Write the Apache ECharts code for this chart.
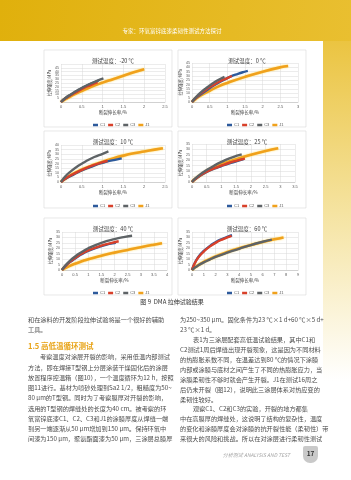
<!DOCTYPE html>
<html>
<head>
<meta charset="utf-8">
<script src="https://cdn.jsdelivr.net/npm/echarts@6/dist/echarts.min.js"></script>
<style>
  html, body { margin: 0; padding: 0; background: #fff; }
  #chart { width: 351px; height: 480px; }
</style>
</head>
<body>
<div id="chart"></div>
<script>
// series names and panel titles
const seriesNames = ['C1', 'C2', 'C3', 'J1'];
const panelTitles = ['测试温度：-20 ℃', '测试温度：0 ℃', '测试温度：10 ℃', '测试温度：25 ℃', '测试温度：40 ℃', '测试温度：60 ℃'];

// axis ranges (tick labels)
const xMax = [2.5, 3, 2.5, 3.5, 4, 9];
const xStep = [0.5, 0.5, 0.5, 0.5, 0.5, 1];
const yMax = [50, 45, 40, 35, 35, 35];
const yStep = [5, 5, 5, 5, 5, 5];

// -20 ℃
const c1_m20 = [[0,0],[0.1,4.8],[0.25,10],[0.4,15],[0.55,19.5],[0.7,23.5],[0.9,28]];
const c2_m20 = [[0,0],[0.1,4.5],[0.25,9.5],[0.4,14],[0.55,18.5],[0.7,22],[0.88,26]];
const c3_m20 = [[0,0],[0.1,5],[0.25,10.5],[0.4,15.5],[0.55,20],[0.7,24],[0.85,27.5],[1.02,31]];
const j1_m20 = [[0,0],[0.1,3.5],[0.25,8],[0.4,12],[0.6,17],[0.8,21.5],[1,25.5],[1.25,30],[1.5,34.5],[1.75,39],[2,43]];
// 0 ℃
const c1_0 = [[0,0],[0.1,4.3],[0.3,10.5],[0.5,16],[0.7,21],[0.9,25.5],[1.1,29.5],[1.3,32.5],[1.45,34.5],[1.58,36]];
const c2_0 = [[0,0],[0.1,4.5],[0.25,10],[0.4,14.5],[0.6,19.5],[0.8,24],[1,27.5],[1.13,30]];
const c3_0 = [[0,0],[0.1,5],[0.25,11],[0.4,16],[0.55,20.5],[0.7,24.5],[0.92,29]];
const j1_0 = [[0,0],[0.1,3.3],[0.25,7.5],[0.5,13],[0.75,18],[1,22],[1.5,29],[2,35],[2.5,40],[2.72,41.5]];
// 10 ℃
const c1_10 = [[0,0],[0.1,3.3],[0.3,8],[0.5,12.5],[0.7,16],[0.9,19.5],[1.1,22],[1.3,24],[1.46,25.5]];
const c2_10 = [[0,0],[0.1,3.5],[0.25,7.5],[0.4,11],[0.6,15],[0.8,18.5],[1,21.5],[1.12,23]];
const c3_10 = [[0,0],[0.1,6],[0.25,12],[0.4,17],[0.6,22.5],[0.8,27],[1,30.5],[1.14,33]];
const j1_10 = [[0,0],[0.1,3.5],[0.25,8],[0.5,13.5],[0.75,18],[1,22],[1.25,25.5],[1.5,28.5],[1.75,31],[2,33],[2.25,35],[2.45,36.5]];
// 25 ℃
const c1_25 = [[0,0],[0.1,2.4],[0.3,6.2],[0.5,9.2],[0.75,12.2],[1,14.7],[1.25,17],[1.5,19],[1.75,21]];
const c2_25 = [[0,0],[0.1,2.5],[0.3,6.5],[0.5,9.5],[0.75,12.5],[1,15],[1.25,17.5],[1.5,19.5],[1.8,21.5]];
const c3_25 = [[0,0],[0.1,3],[0.3,7.5],[0.5,11],[0.75,15],[1,18.5],[1.25,21.5],[1.5,24],[1.69,25.5]];
const j1_25 = [[0,0],[0.1,2.5],[0.3,6.5],[0.5,10],[0.75,13.5],[1,16.5],[1.5,21],[2,25],[2.5,28.5],[2.93,31]];
// 40 ℃
const c1_40 = [[0,0],[0.1,2.9],[0.3,7.2],[0.5,10.6],[0.75,14.5],[1,17.5],[1.5,22],[1.8,24],[2.05,25]];
const c2_40 = [[0,0],[0.1,3],[0.3,7.5],[0.5,11],[0.75,15],[1,18],[1.5,22.5],[1.9,25],[2.16,26.5]];
const c3_40 = [[0,0],[0.1,3.5],[0.3,8.5],[0.5,12.5],[0.75,16.5],[1,20],[1.5,25],[2,28.5],[2.4,30.5],[2.67,31.5]];
const j1_40 = [[0,0],[0.1,1.5],[0.3,3.8],[0.5,5.8],[0.75,8],[1,10],[1.5,13.2],[2,16],[2.5,18.5],[3,21],[3.5,23.3],[3.81,24.6]];
// 60 ℃
const c1_60 = [[0,0],[0.1,3.1],[0.3,7.8],[0.6,13],[1,17.5],[1.5,22],[2,25.5],[2.5,28.3],[3,30.5],[3.4,32]];
const c2_60 = [[0,0],[0.1,3],[0.3,7.5],[0.6,12.5],[1,17],[1.5,21.5],[2,25],[2.5,27.8],[3,30],[3.36,31.5]];
const c3_60 = [[0,0],[0.2,1.8],[0.5,4],[1,7],[1.5,9.5],[2,12],[3,16],[4,19.5],[5,23],[6,26],[6.78,28]];
const j1_60 = [[0,0],[0.2,2],[0.5,4.2],[1,7.5],[1.5,10],[2,12.5],[3,16.5],[4,20],[5,23],[6,25.8],[7,28.3],[7.77,30]];

const panelData = [
  [c1_m20, c2_m20, c3_m20, j1_m20],
  [c1_0, c2_0, c3_0, j1_0],
  [c1_10, c2_10, c3_10, j1_10],
  [c1_25, c2_25, c3_25, j1_25],
  [c1_40, c2_40, c3_40, j1_40],
  [c1_60, c2_60, c3_60, j1_60]
];

// page text
const headerText = '专家：环氧富锌底漆柔韧性测试方法探讨';
const captionText = '图 9  DMA 拉伸试验结果';
const sectionHeading = '1.5 高低温循环测试';
const leftTopLines = ['和在涂料的开发阶段拉伸试验将是一个很好的辅助', '工具。'];
const leftLines = [
  '考察温度对涂层开裂的影响，采用低温内部测试',
  '方法，即在焊接T型钢上分层涂装干燥固化后的涂层',
  '放置程序控温箱（图10），一个温度循环为12 h，按照',
  '图11进行。基材为喷砂处理到Sa2 1/2，粗糙度为50~',
  '80 μm的T型钢。同时为了考察膜厚对开裂的影响，',
  '选用的T型钢的焊缝处的长度为40 cm。被考察的环',
  '氧富锌底漆C1、C2、C3和J1的涂膜厚度从焊缝一端',
  '到另一端逐渐从50 μm增加到150 μm。保持环氧中',
  '间漆为150 μm，聚氨酯面漆为50 μm，三涂层总膜厚'
];
const rightLines = [
  '为250~350 μm。固化条件为23 ℃×1 d+60 ℃×5 d+',
  '23 ℃×1 d。',
  '表1为三涂层配套高低温试验结果，其中C1和',
  'C2测试1周后焊缝出现开裂现象，这是因为不同材料',
  '的热膨胀系数不同，在温差达到80 ℃的情况下涂膜',
  '内部或涂膜与底材之间产生了不同的热膨胀应力，当',
  '涂膜柔韧性不够时就会产生开裂。J1在测试16周之',
  '后仍未开裂（图12），说明此三涂层体系对热应变的',
  '柔韧性较好。',
  '观察C1、C2和C3的实验，开裂的地方都集',
  '中在高膜厚的焊缝处，这说明了结构的复杂性，温度',
  '的变化和涂膜厚度会对涂膜的抗开裂性能（柔韧性）带',
  '来很大的风险和挑战。所以在对涂层进行柔韧性测试'
];
const rightIndent = [2, 9];
const footerText = '分析测试 ANALYSIS AND TEST';
const pageNo = '17';

// layout
const colors = ['#2d5a9c', '#d8402a', '#5e6366', '#f0a11c'];
const boxes = [[44,50,128,77],[178,50,128,77],[44,131,128,77],[178,131,128,77],[44,218,128,77],[178,218,128,77]];
const grids = [[61,64,104,38],[192,63,106,39],[61,145,104,37],[192,144,103,38],[62,232,105,38],[192,232,106,38]];
const titleTop = [53, 53, 134, 134, 221, 221];
const legendTop = [118, 118, 199, 199, 286, 286];
const cjk = '"Noto Sans CJK SC", "Noto Sans", sans-serif';
const bodyColor = '#4d4d4d';

const chart = echarts.init(document.getElementById('chart'));

const graphics = [
  { type: 'rect', z: -20, shape: { x: 0, y: 0, width: 351, height: 480 }, style: { fill: '#fff' } },
  { type: 'rect', z: -19, shape: { x: 0, y: 0, width: 351, height: 41 },
    style: { fill: new echarts.graphic.LinearGradient(0, 0, 1, 1, [{ offset: 0, color: '#e0b00c' }, { offset: 1, color: '#e9bf30' }]) } },
  { type: 'rect', z: -19, shape: { x: 323, y: 41, width: 28, height: 340 },
    style: { fill: new echarts.graphic.LinearGradient(0, 0, 0, 1, [{ offset: 0, color: '#ebc441' }, { offset: 0.5, color: '#f5e3a0' }, { offset: 1, color: '#ffffff' }]) } },
  { type: 'text', x: 172, y: 31, z: 10, style: { text: headerText, font: '5.5px ' + cjk, fill: '#fff', align: 'center', verticalAlign: 'middle' } },
  { type: 'text', x: 172, y: 302, z: 10, style: { text: captionText, font: '6px ' + cjk, fill: '#333', align: 'center', verticalAlign: 'middle' } },
  { type: 'text', x: 28, y: 346, z: 10, style: { text: sectionHeading, font: 'bold 7.5px ' + cjk, fill: '#e8a316', verticalAlign: 'middle' } },
  { type: 'text', x: 290, y: 455, z: 10, style: { text: footerText, font: 'italic 5px ' + cjk, fill: '#a6a6a6', align: 'right', verticalAlign: 'middle' } },
  { type: 'rect', z: 5, shape: { x: 303, y: 446, width: 15, height: 17, r: [2, 2, 7, 7] }, style: { fill: '#c9c9c9' } },
  { type: 'text', x: 310.5, y: 454, z: 10, style: { text: pageNo, font: 'bold 6.5px ' + cjk, fill: '#333', align: 'center', verticalAlign: 'middle' } }
];

boxes.forEach(function (b) {
  graphics.push({ type: 'rect', z: -5, shape: { x: b[0], y: b[1], width: b[2], height: b[3] }, style: { fill: '#fff', stroke: '#d9d9d9', lineWidth: 0.6 } });
});

leftTopLines.forEach(function (t, i) {
  graphics.push({ type: 'text', x: 28, y: 320 + i * 10, z: 10, style: { text: t, font: '6.2px ' + cjk, fill: bodyColor, verticalAlign: 'middle' } });
});
leftLines.forEach(function (t, i) {
  graphics.push({ type: 'text', x: i === 0 ? 40 : 28, y: 357 + i * 10.25, z: 10, style: { text: t, font: '6.2px ' + cjk, fill: bodyColor, verticalAlign: 'middle' } });
});
rightLines.forEach(function (t, i) {
  graphics.push({ type: 'text', x: rightIndent.indexOf(i) >= 0 ? 193 : 180, y: 320 + i * 9.9, z: 10, style: { text: t, font: '6.2px ' + cjk, fill: bodyColor, verticalAlign: 'middle' } });
});

const option = {
  animation: false,
  title: [], grid: [], xAxis: [], yAxis: [], legend: [], series: [],
  graphic: graphics
};

panelData.forEach(function (data, p) {
  const g = grids[p];
  const b = boxes[p];
  option.title.push({
    text: panelTitles[p], left: b[0] + b[2] / 2, top: titleTop[p], textAlign: 'center',
    textStyle: { fontSize: 5.5, fontWeight: 'normal', color: '#404040', fontFamily: cjk }
  });
  option.grid.push({ left: g[0], top: g[1], width: g[2], height: g[3] });
  option.xAxis.push({
    type: 'value', gridIndex: p, min: 0, max: xMax[p], interval: xStep[p],
    name: '断裂伸长率/%', nameLocation: 'middle', nameGap: 8,
    nameTextStyle: { fontSize: 4.5, color: '#404040', fontFamily: cjk },
    axisLine: { lineStyle: { color: '#bfbfbf', width: 0.6 } },
    axisTick: { show: false },
    axisLabel: { fontSize: 4, color: '#595959', margin: 2.5 },
    splitLine: { show: true, lineStyle: { color: '#d9d9d9', width: 0.5 } }
  });
  option.yAxis.push({
    type: 'value', gridIndex: p, min: 0, max: yMax[p], interval: yStep[p],
    name: '拉伸强度/MPa', nameLocation: 'middle', nameGap: 9,
    nameTextStyle: { fontSize: 4.2, color: '#404040', fontFamily: cjk },
    axisLine: { show: false },
    axisTick: { show: false },
    axisLabel: { fontSize: 3.6, color: '#595959', margin: 2 },
    splitLine: { show: true, lineStyle: { color: '#d9d9d9', width: 0.5 } }
  });
  option.legend.push({
    data: seriesNames, left: b[0] + b[2] / 2 - 20, top: legendTop[p],
    itemWidth: 5, itemHeight: 2.5, itemGap: 3, icon: 'rect',
    textStyle: { fontSize: 4, color: '#595959', padding: [0, 0, 0, -3] }
  });
  data.forEach(function (d, s) {
    option.series.push({
      name: seriesNames[s], type: 'line', xAxisIndex: p, yAxisIndex: p,
      data: d, smooth: true, showSymbol: false, symbol: 'none',
      z: s === 3 ? 2 : 3 + (s === 2 ? 1 : 0),
      lineStyle: s === 3
        ? { color: colors[s], width: 2.6, shadowColor: 'rgba(255,215,80,0.9)', shadowBlur: 2 }
        : { color: colors[s], width: 2.4 },
      itemStyle: { color: colors[s] }
    });
  });
});

chart.setOption(option);
</script>
</body>
</html>
